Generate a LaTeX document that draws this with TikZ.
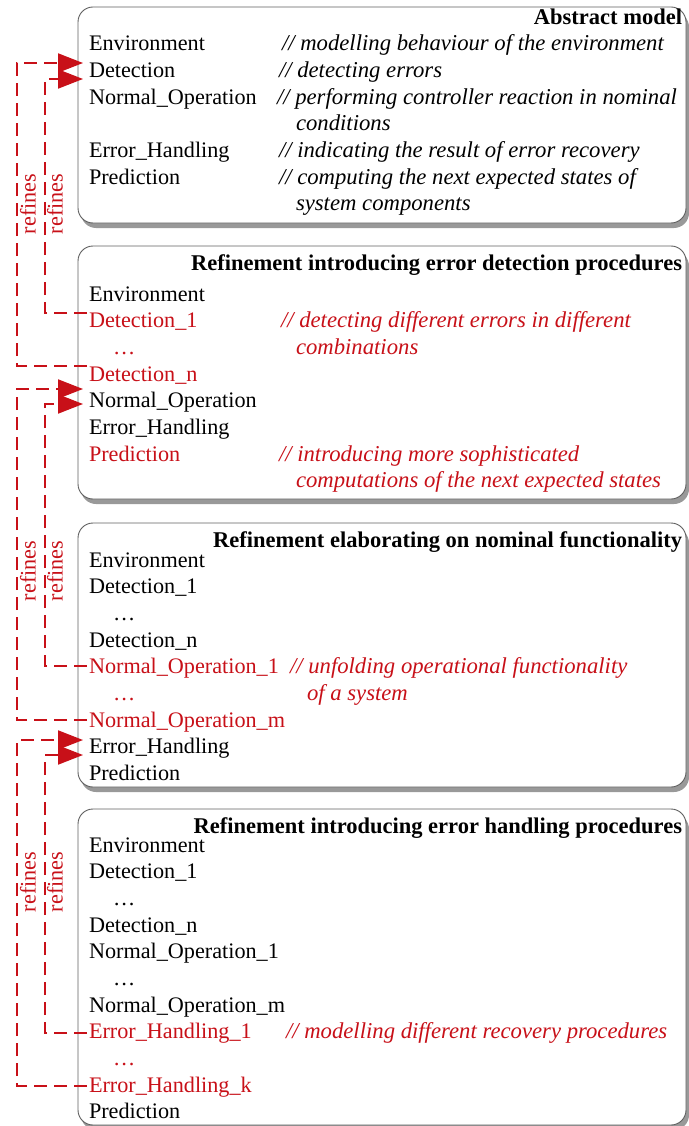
\documentclass[tikz,border=0pt]{standalone}
\usepackage{fontspec}
\setmainfont{Liberation Serif}
\usetikzlibrary{arrows.meta,shadows}
\definecolor{refred}{RGB}{200,16,24}
\definecolor{framegray}{RGB}{95,95,95}
\begin{document}
\begin{tikzpicture}[x=1pt,y=-1pt,
  every node/.style={font=\fontsize{22.2}{26.7}\selectfont, inner sep=0pt, outer sep=0pt},
  panel/.style={draw=framegray, line width=0.9pt, fill=white, rounded corners=15pt,
    anchor=north west, minimum width=608pt,
    drop shadow={shadow xshift=3pt, shadow yshift=-5pt, fill=black!40, opacity=1}},
  item/.style={anchor=base west},
  newitem/.style={item, text=refred},
  note/.style={anchor=base west, font=\fontsize{22.7}{26.7}\selectfont\itshape},
  newnote/.style={note, text=refred},
  heading/.style={anchor=base east, font=\fontsize{22.5}{26.7}\selectfont\bfseries},
  refline/.style={draw=refred, line width=2pt, dash pattern=on 13pt off 7pt,
    -{Triangle[length=25pt,width=19pt]}},
  reflabel/.style={text=refred, rotate=90},
]
\useasboundingbox (0,0) rectangle (688,1126);

% ---------- panels ----------
\node[panel, minimum height=216pt] (p1) at (78,7) {};
\node[panel, minimum height=253pt] (p2) at (78,246) {};
\node[panel, minimum height=264pt] (p3) at (78,523) {};
\node[panel, minimum height=316pt] (p4) at (78,809) {};

% ---------- abstract model ----------
\node[heading] (h1) at (682,25) {Abstract model};
\node[item] (b1env) at (89,51) {Environment};
\node[note] (c1env) at (282,51) {// modelling behaviour of the environment};
\node[item] (b1det) at (89,77.7) {Detection};
\node[note] (c1det) at (279,77.7) {// detecting errors};
\node[item] (b1no) at (89,104.3) {Normal\_Operation};
\node[note] (c1no) at (277,104.3) {// performing controller reaction in nominal};
\node[note] (c1nob) at (296,131) {conditions};
\node[item] (b1eh) at (89,157.7) {Error\_Handling};
\node[note] (c1eh) at (279,157.7) {// indicating the result of error recovery};
\node[item] (b1pr) at (89,184.3) {Prediction};
\node[note] (c1pr) at (279,184.3) {// computing the next expected states of};
\node[note] (c1prb) at (296,211) {system components};

% ---------- error detection refinement ----------
\node[heading] (h2) at (682,270) {Refinement introducing error detection procedures};
\node[item] (b2env) at (89,301) {Environment};
\node[newitem] (b2det1) at (89,327.7) {Detection\_1};
\node[newnote] (c2det) at (281,327.7) {// detecting different errors in different};
\node[newitem] (b2dots) at (113,354.3) {…};
\node[newnote] (c2detb) at (296,354.3) {combinations};
\node[newitem] (b2detn) at (89,381) {Detection\_n};
\node[item] (b2no) at (89,407.7) {Normal\_Operation};
\node[item] (b2eh) at (89,434.3) {Error\_Handling};
\node[newitem] (b2pr) at (89,461) {Prediction};
\node[newnote] (c2pr) at (279,461) {// introducing more sophisticated};
\node[newnote] (c2prb) at (296,487.7) {computations of the next expected states};

% ---------- nominal functionality refinement ----------
\node[heading] (h3) at (682,547) {Refinement elaborating on nominal functionality};
\node[item] (b3env) at (89,567) {Environment};
\node[item] (b3det1) at (89,593.7) {Detection\_1};
\node[item] (b3dots1) at (113,620.3) {…};
\node[item] (b3detn) at (89,647) {Detection\_n};
\node[newitem] (b3no1) at (89,673.7) {Normal\_Operation\_1};
\node[newnote] (c3no) at (290,673.7) {// unfolding operational functionality};
\node[newitem] (b3dots2) at (113,700.3) {…};
\node[newnote] (c3nob) at (307,700.3) {of a system};
\node[newitem] (b3nom) at (89,727) {Normal\_Operation\_m};
\node[item] (b3eh) at (89,753.7) {Error\_Handling};
\node[item] (b3pr) at (89,780.3) {Prediction};

% ---------- error handling refinement ----------
\node[heading] (h4) at (682,833) {Refinement introducing error handling procedures};
\node[item] (b4env) at (89,852) {Environment};
\node[item] (b4det1) at (89,878.7) {Detection\_1};
\node[item] (b4dots1) at (113,905.3) {…};
\node[item] (b4detn) at (89,932) {Detection\_n};
\node[item] (b4no1) at (89,958.7) {Normal\_Operation\_1};
\node[item] (b4dots2) at (113,985.3) {…};
\node[item] (b4nom) at (89,1012) {Normal\_Operation\_m};
\node[newitem] (b4eh1) at (89,1038.7) {Error\_Handling\_1};
\node[newnote] (c4eh) at (286,1038.7) {// modelling different recovery procedures};
\node[newitem] (b4dots3) at (113,1065.3) {…};
\node[newitem] (b4ehk) at (89,1092) {Error\_Handling\_k};
\node[item] (b4pr) at (89,1118.7) {Prediction};

% ---------- refinement links ----------
\coordinate (railO) at (17,0);
\coordinate (railI) at (45,0);

\coordinate (s1o) at ([shift={(-2pt,15pt)}]b2detn.base west);
\coordinate (s1i) at ([shift={(-2pt,14.7pt)}]b2det1.base west);
\coordinate (e1o) at ([shift={(-6pt,14.7pt)}]b1det.base west);
\coordinate (e1i) at ([shift={(-6pt,-1.3pt)}]b1det.base west);

\coordinate (s2o) at ([shift={(-2pt,7pt)}]b3nom.base west);
\coordinate (s2i) at ([shift={(-2pt,7.7pt)}]b3no1.base west);
\coordinate (e2o) at ([shift={(-6pt,18.7pt)}]b2no.base west);
\coordinate (e2i) at ([shift={(-6pt,3.7pt)}]b2no.base west);

\coordinate (s3o) at ([shift={(-2pt,6pt)}]b4ehk.base west);
\coordinate (s3i) at ([shift={(-2pt,5.7pt)}]b4eh1.base west);
\coordinate (e3o) at ([shift={(-6pt,13.7pt)}]b3eh.base west);
\coordinate (e3i) at ([shift={(-6pt,-1.3pt)}]b3eh.base west);

\draw[refline] (s1o) -- (s1o -| railO) |- (e1o);
\draw[refline] (s1i) -- (s1i -| railI) |- (e1i);
\draw[refline] (s2o) -- (s2o -| railO) |- (e2o);
\draw[refline] (s2i) -- (s2i -| railI) |- (e2i);
\draw[refline] (s3o) -- (s3o -| railO) |- (e3o);
\draw[refline] (s3i) -- (s3i -| railI) |- (e3i);

\node[reflabel] (r1o) at (28,204) {refines};
\node[reflabel] (r1i) at (55,204) {refines};
\node[reflabel] (r2o) at (28,571) {refines};
\node[reflabel] (r2i) at (55,571) {refines};
\node[reflabel] (r3o) at (28,882) {refines};
\node[reflabel] (r3i) at (55,882) {refines};
\end{tikzpicture}
\end{document}
